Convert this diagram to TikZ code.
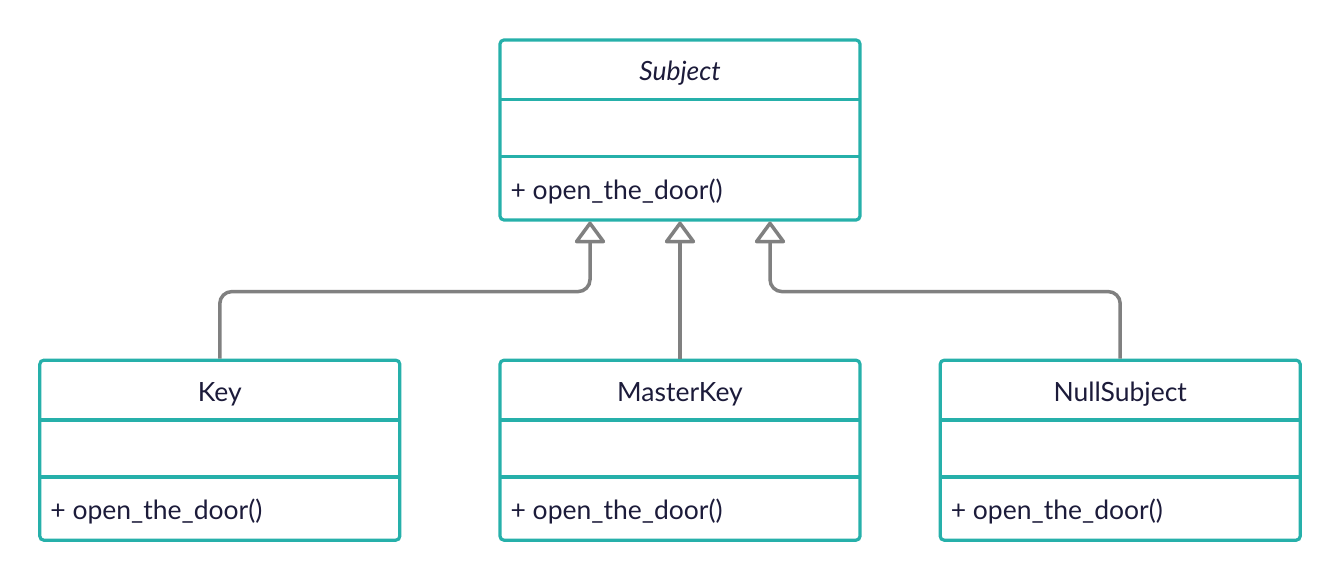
\documentclass[tikz,border=0pt]{standalone}
\usepackage{fontspec}
\setmainfont{Lato}
\usepackage{tikz}
\usetikzlibrary{positioning, arrows.meta, calc}

\definecolor{umlteal}{RGB}{38,176,170}
\definecolor{umlgray}{RGB}{128,128,128}
\definecolor{umlink}{RGB}{28,27,58}

\begin{document}
\begin{tikzpicture}[
    x=1pt, y=1pt,
    classbox/.style={rectangle, draw=umlteal, line width=3.2pt, rounded corners=4pt,
                     minimum width=360pt, minimum height=180pt},
    divider/.style={draw=umlteal, line width=3.2pt},
    classname/.style={text=umlink, font=\fontsize{26.5}{31}\selectfont, anchor=base, inner sep=0pt},
    classop/.style={text=umlink, font=\fontsize{26.5}{31}\selectfont, anchor=base west, inner sep=0pt},
    inherit/.style={draw=umlgray, line width=3.5pt, rounded corners=12pt,
                    -{Triangle[open, length=23pt, width=33pt, line join=round]}},
]
\useasboundingbox (0,0) rectangle (1340,580);

\node[classbox](subject) at (680,450){};
\node[classbox](masterkey)[below = 137pt of subject]{};
\node[classbox](key)[left = 97pt of masterkey]{};
\node[classbox](nullsubject)[right = 77pt of masterkey]{};

% compartments
\foreach \c/\t in {subject/{\itshape Subject}, key/Key, masterkey/MasterKey, nullsubject/NullSubject}{
    \node[classname](\c name) at ($(\c.north)+(0,-42.5)$){\t};
    \draw[divider] ($(\c.north west)+(1.5,-61.5)$) -- ($(\c.north east)+(-1.5,-61.5)$);
    \draw[divider] ($(\c.north west)+(1.5,-118.5)$) -- ($(\c.north east)+(-1.5,-118.5)$);
    \node[classop](\c op) at ($(\c.south west)+(12,22.5)$){+ open\_the\_door()};
}

% generalisation arrows
\coordinate (tipkey) at ($(subject.south)+(-90,0)$);
\coordinate (tipnull) at ($(subject.south)+(90,0)$);
\draw[inherit] (key.north) |- ($(tipkey)+(0,-70)$) -- (tipkey);
\draw[inherit] (masterkey.north) -- (subject.south);
\draw[inherit] (nullsubject.north) |- ($(tipnull)+(0,-70)$) -- (tipnull);
\end{tikzpicture}
\end{document}
